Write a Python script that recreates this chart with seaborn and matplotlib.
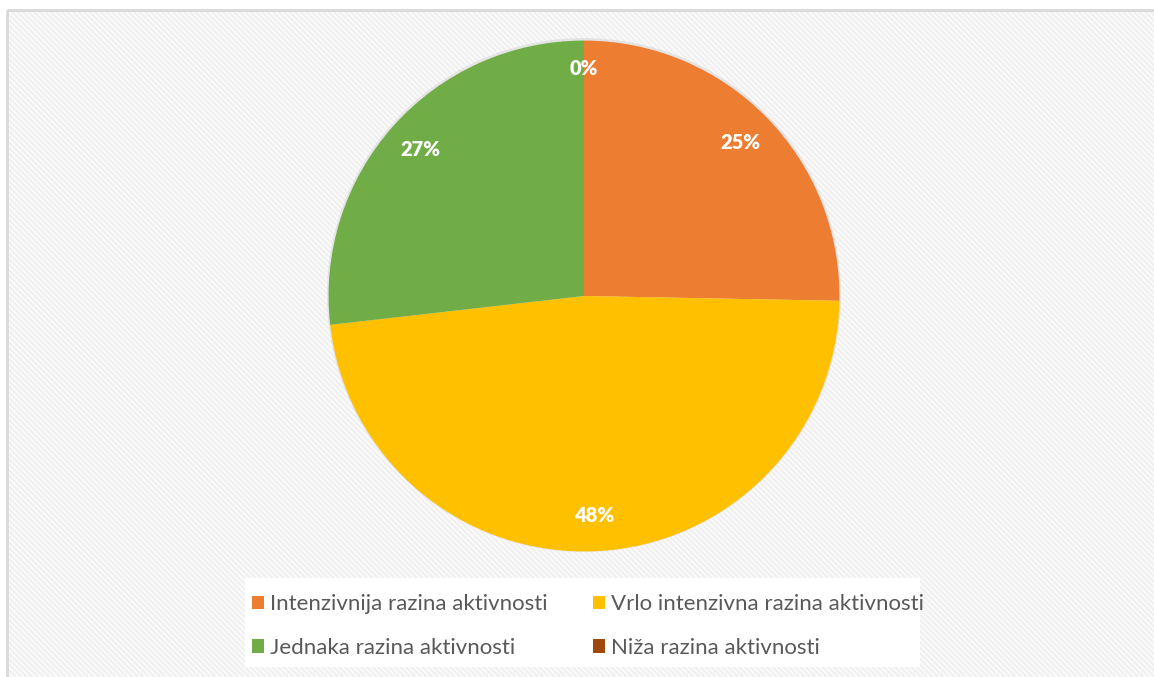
import matplotlib
matplotlib.use("Agg")
import matplotlib.pyplot as plt
import seaborn as sns
import numpy as np
from matplotlib.patches import Rectangle, Patch, Circle

categories = ["Intenzivnija razina aktivnosti", "Vrlo intenzivna razina aktivnosti",
              "Jednaka razina aktivnosti", "Niža razina aktivnosti"]
values = [25.3, 47.9, 26.8, 0.0]
labels = ["25%", "48%", "27%", "0%"]
colors = ["#ED7D31", "#FFC000", "#70AD47", "#9E480E"]

sns.set_theme(style="white")
plt.rcParams['font.family'] = ['Lato', 'DejaVu Sans']

W, H = 1154, 677
fig = plt.figure(figsize=(W / 100, H / 100), dpi=100)
fig.patch.set_facecolor("white")

# background with faint diagonal hatch
bg = fig.add_axes([0, 0, 1, 1])
bg.set_xlim(0, W)
bg.set_ylim(H, 0)
bg.axis("off")
hatch_rect = Rectangle((7, 10), W + 10, H, facecolor="white", edgecolor="#F1F1F1",
                       linewidth=0, hatch="\\\\\\\\\\\\", zorder=0)
try:
    hatch_rect.set_hatch_linewidth(2.0)
except Exception:
    pass
bg.add_patch(hatch_rect)
bg.add_patch(Rectangle((7, 10), W + 10, H, facecolor="none", edgecolor="#D9D9D9",
                       linewidth=2, zorder=0.5))
bg.add_patch(Rectangle((245, 578), 675, 89, facecolor="white", edgecolor="none", zorder=1))

cx, cy, r = 584, 296, 258
ax = fig.add_axes([(cx - r) / W, 1 - (cy + r) / H, 2 * r / W, 2 * r / H])
ax.set_facecolor("none")
ax.add_patch(Circle((0, 0.004), 1.006, facecolor="#D8D8D8", edgecolor="none", alpha=0.6, zorder=0))
pal = sns.color_palette(colors)
wedges, _ = ax.pie(values, colors=pal, startangle=90, counterclock=False, radius=1,
                   wedgeprops=dict(edgecolor="none", linewidth=0))
ax.set_xlim(-1.01, 1.01)
ax.set_ylim(-1.01, 1.01)
ax.set_aspect("equal")

start = 90.0
tot = sum(values)
for v, lab in zip(values, labels):
    ang = start - v / tot * 360 / 2
    dist = 0.86 if v > 0 else 0.89
    x, y = dist * np.cos(np.radians(ang)), dist * np.sin(np.radians(ang))
    ax.text(x, y, lab, ha="center", va="center", color="white", fontsize=14.5,
            fontweight="heavy")
    start -= v / tot * 360

order = [0, 2, 1, 3]
handles = [Patch(facecolor=colors[i], edgecolor="none") for i in order]
leg_labels = [categories[i] for i in order]
leg = fig.legend(handles, leg_labels, ncol=2, loc="center",
                 bbox_to_anchor=(588 / W, 1 - 626 / H),
                 frameon=False, fontsize=16, handlelength=0.55, handleheight=0.55,
                 handletextpad=0.3, columnspacing=2.0, labelspacing=1.05,
                 labelcolor="#595959", borderpad=0)

fig.savefig("out.png", dpi=100)
